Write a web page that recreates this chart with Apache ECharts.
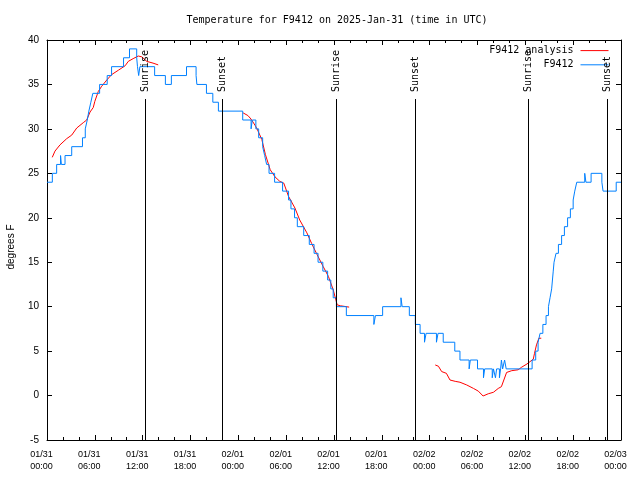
<!DOCTYPE html>
<html>
<head>
<meta charset="utf-8">
<script src="https://cdn.jsdelivr.net/npm/echarts@6/dist/echarts.min.js"></script>
<style>
html,body{margin:0;padding:0;background:#fff;}
#chart{width:640px;height:480px;}
</style>
</head>
<body>
<div id="chart"></div>
<script>
// ---- data (hours since 2025-01-31 00:00 UTC) ----
var xTickDates = ["01/31","01/31","01/31","01/31","02/01","02/01","02/01","02/01","02/02","02/02","02/02","02/02","02/03"];
var xTickTimes = ["00:00","06:00","12:00","18:00","00:00","06:00","12:00","18:00","00:00","06:00","12:00","18:00","00:00"];

// observations (value starts at the given hour, held until the next hour)
var obsHours = [0,0.67,1.21,1.70,1.80,2.26,3.10,4.45,4.80,5.05,5.25,5.50,5.75,6.60,7.55,8.10,9.60,10.35,
  11.25,11.35,11.50,11.65,13.50,14.85,15.60,17.50,18.70,18.80,20.00,20.80,21.50,
  24.55,25.60,25.75,26.20,26.55,27.05,27.30,27.55,27.85,28.55,29.55,30.30,30.60,31.05,31.40,
  32.20,32.90,33.50,34.00,34.60,35.20,35.60,35.90,36.30,37.55,41.00,41.20,42.10,44.40,44.55,
  45.45,46.20,46.80,47.35,47.55,48.85,49.05,49.70,51.15,51.80,52.95,53.10,54.00,54.75,54.90,
  55.85,56.00,56.25,56.40,56.75,56.90,57.00,57.15,57.40,57.60,60.85,61.30,61.60,61.85,62.20,
  62.60,62.90,63.10,63.30,63.40,63.50,63.60,63.85,64.15,64.55,64.90,65.30,65.65,66.00,66.20,
  66.45,67.45,67.60,68.25,69.60,69.75,71.40,72.0];
var obsTemps = [24,25,26,27,26,27,28,29,30,31,32,33,34,35,36,37,38,39,
  38,37,36,37,36,35,36,37,36,35,34,33,32,
  31,30,31,30,29,28,27,26,25,24,23,22,21,20,19,
  18,17,16,15,14,13,12,11,10,9,8,9,10,11,10,
  9,8,7,6,7,6,7,6,5,4,3,4,3,2,3,
  2,3,2,3,2,3,4,3,4,3,4,5,6,7,8,
  9,10,11,12,13,14,15,16,17,18,19,20,21,22,23,
  24,25,24,25,24,23,24,24];

// analysis, three segments
var anaHours1 = [0.66,1.0,1.63,2.47,3.1,3.73,4.55,4.98,5.4,5.8,6.0,6.43,6.86,7.5,8.1,8.95,9.8,10.2,10.8,11.45,11.9,12.5,13.3,13.95];
var anaTemps1 = [26.8,27.5,28.2,28.9,29.3,30.1,30.7,31.0,31.9,32.4,33.1,34.2,34.8,35.5,36.1,36.6,37.1,37.6,37.9,38.2,38.1,37.6,37.4,37.2];
var anaHours2 = [24.6,25.2,25.6,26.1,26.35,26.95,27.4,28.0,28.6,29.2,29.7,30.3,31.1,31.7,32.6,33.2,33.8,34.65,35.3,35.9,36.4,36.8,37.9];
var anaTemps2 = [31.8,31.5,31.1,30.4,30.0,28.8,27.1,25.4,24.6,24.1,23.9,22.4,21.1,19.75,18.3,17.1,16.0,14.5,13.4,11.9,10.2,10.1,9.95];
var anaHours3 = [48.7,49.1,49.5,50.1,50.55,51.2,51.8,52.65,53.5,54.1,54.7,55.35,56.0,56.6,57.0,57.65,58.3,59.1,59.55,60.2,61.0,61.15,61.4,61.7,62.0];
var anaTemps3 = [3.44,3.3,2.7,2.5,1.75,1.6,1.5,1.19,0.8,0.5,-0.05,0.2,0.37,0.8,1.0,2.6,2.8,2.9,3.2,3.55,4.1,4.75,5.7,6.45,6.45];

var eventHours = [12.3,22.0,36.3,46.1,60.3,70.2];
var eventLabels = ["Sunrise","Sunset","Sunrise","Sunset","Sunrise","Sunset"];

var yMin = -5, yMax = 40, yStep = 5;
var xMin = 0, xMax = 72, xStep = 6;

// ---- build ----
function pairs(h, v){ var o=[]; for(var i=0;i<h.length;i++) o.push([h[i], v[i]]); return o; }
var obsData = pairs(obsHours, obsTemps);
var anaData = pairs(anaHours1, anaTemps1).concat([[20,'-']], pairs(anaHours2, anaTemps2), [[45,'-']], pairs(anaHours3, anaTemps3));
var eventData = eventHours.map(function(h){ return [h, yMin]; });

var MONO = '"DejaVu Sans Mono", "Liberation Mono", monospace';
var SANS = '"Liberation Sans", Arial, sans-serif';

function xAxisDef(pos, showLabel){
  return {
    type:'value', position:pos, min:xMin, max:xMax, interval:xStep,
    axisLine:{show:true, onZero:false, lineStyle:{color:'#000', width:1}},
    axisTick:{show:true, inside:true, length:5, lineStyle:{color:'#000'}},
    minorTick:{show:true, splitNumber:3, length:3, lineStyle:{color:'#000'}},
    splitLine:{show:false},
    axisLabel:{show:showLabel, color:'#000', fontFamily:SANS, fontSize:9, margin:9,
      rich:{a:{fontFamily:SANS, fontSize:9, lineHeight:12, color:'#000', padding:[0,11,0,0]}},
      formatter:function(v){ var i=Math.round(v/xStep);
        if(i<0||i>=xTickDates.length) return '';
        return '{a|'+xTickDates[i]+'}\n{a|'+xTickTimes[i]+'}'; }}
  };
}
function yAxisDef(pos, showLabel){
  return {
    type:'value', position:pos, min:yMin, max:yMax, interval:yStep,
    axisLine:{show:true, onZero:false, lineStyle:{color:'#000', width:1}},
    axisTick:{show:true, inside:true, length:5, lineStyle:{color:'#000'}},
    splitLine:{show:false},
    axisLabel:{show:showLabel, color:'#000', fontFamily:SANS, fontSize:10, margin:8}
  };
}

var chart = echarts.init(document.getElementById('chart'), null, {renderer:'canvas'});
chart.setOption({
  backgroundColor:'#fff',
  animation:false,
  title:{text:'Temperature for F9412 on 2025-Jan-31 (time in UTC)', left:332, top:10, textAlign:'center',
    textStyle:{color:'#000', fontFamily:MONO, fontSize:10, fontWeight:'normal'}},
  legend:{orient:'vertical', right:31, top:45, padding:0, align:'right', itemWidth:28, itemHeight:14, itemGap:3,
    itemStyle:{opacity:0}, lineStyle:{width:1},
    data:['F9412 analysis','F9412'],
    textStyle:{color:'#000', fontFamily:MONO, fontSize:10, padding:[0,2,0,0]}},
  graphic:[{type:'text', x:11, y:247, rotation:Math.PI/2,
    style:{text:'degrees F', fill:'#000', font:'10px '+SANS, align:'center', verticalAlign:'middle'}}],
  grid:{left:47, right:19, top:40, bottom:40, containLabel:false, outerBoundsMode:'none'},
  xAxis:[xAxisDef('bottom', true), xAxisDef('top', false)],
  yAxis:[yAxisDef('left', true), yAxisDef('right', false)],
  series:[
    {name:'F9412 analysis', type:'line', data:anaData, showSymbol:false, symbol:'none', connectNulls:false,
      lineStyle:{color:'#ff0000', width:1}, itemStyle:{color:'#ff0000'}},
    {name:'F9412', type:'line', data:obsData, step:'end', showSymbol:false, symbol:'none',
      lineStyle:{color:'#0080ff', width:1}, itemStyle:{color:'#0080ff'}},
    {type:'custom', data:eventData, silent:true, clip:false, z:5,
      renderItem:function(params, api){
        var x = api.value(0);
        var pTop = api.coord([x, yMax]);
        var pBot = api.coord([x, yMin]);
        var px = Math.round(pTop[0]) + 0.5;
        return {type:'group', children:[
          {type:'line', shape:{x1:px, y1:pTop[1]+59, x2:px, y2:pBot[1]}, style:{stroke:'#000', lineWidth:1}},
          {type:'text', x:px, y:pTop[1]+52, rotation:Math.PI/2,
            style:{text:eventLabels[params.dataIndex], fill:'#000', font:'10px '+MONO, align:'left', verticalAlign:'middle'}}
        ]};
      }}
  ]
});
</script>
</body>
</html>
